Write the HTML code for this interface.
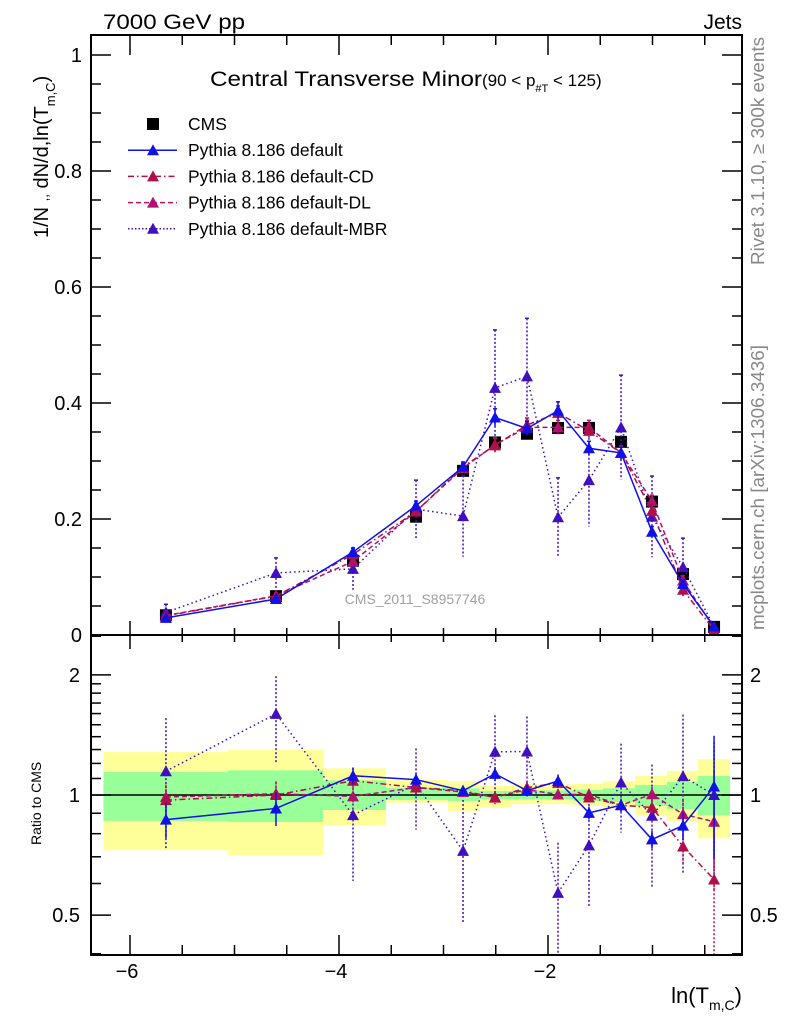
<!DOCTYPE html>
<html><head><meta charset="utf-8"><style>
body{margin:0;background:#fff;}
svg{display:block;font-family:"Liberation Sans",sans-serif;}
</style></head><body>
<svg id="plot" width="786" height="1024" viewBox="0 0 786 1024" xmlns="http://www.w3.org/2000/svg">
<g id="bands"></g>
<g id="marks"></g>
<g id="axes"></g>
<text x="103" y="29" font-size="21" textLength="142" lengthAdjust="spacingAndGlyphs">7000 GeV pp</text>
<text x="742" y="29" font-size="21" text-anchor="end">Jets</text>
<text x="210" y="86" font-size="21" textLength="272" lengthAdjust="spacingAndGlyphs">Central Transverse Minor</text>
<text x="482" y="86" font-size="17">(90 &lt; p<tspan font-size="11" dy="6">#T</tspan><tspan dy="-6">  &lt; 125)</tspan></text>
<text x="415" y="604" font-size="14" fill="#a0a0a0" text-anchor="middle">CMS_2011_S8957746</text>
<text transform="translate(48,238) rotate(-90)" font-size="20">1/N <tspan font-size="13">,,</tspan> dN/d,ln(T<tspan font-size="13" dy="7">m,C</tspan><tspan dy="-7">)</tspan></text>
<text transform="translate(41,845) rotate(-90)" font-size="14">Ratio to CMS</text>
<text x="742" y="1003" font-size="22" text-anchor="end">ln(T<tspan font-size="14" dy="7">m,C</tspan><tspan dy="-7">)</tspan></text>
<text transform="translate(764,265) rotate(-90)" font-size="18" fill="#888" textLength="228" lengthAdjust="spacingAndGlyphs">Rivet 3.1.10, ≥ 300k events</text>
<text transform="translate(764,630) rotate(-90)" font-size="18" fill="#888" textLength="285" lengthAdjust="spacingAndGlyphs">mcplots.cern.ch [arXiv:1306.3436]</text>
<g id="legend"></g>
</svg>
<script>
const xCenters=[-5.656,-4.603,-3.866,-3.263,-2.813,-2.507,-2.201,-1.904,-1.608,-1.301,-1.005,-0.708,-0.411];
const binEdges=[-6.254,-5.062,-4.153,-3.550,-2.957,-2.660,-2.354,-2.057,-1.751,-1.474,-1.167,-0.861,-0.565,-0.258];
const cmsValues=[0.034,0.067,0.128,0.204,0.283,0.332,0.347,0.357,0.357,0.333,0.230,0.105,0.014];
const cmsErrors=[0.002,0.004,0.006,0.008,0.008,0.010,0.010,0.010,0.010,0.008,0.006,0.004,0.001];
const bandYellowHi=[1.281,1.299,1.166,1.090,1.084,1.053,1.063,1.063,1.067,1.084,1.116,1.149,1.229];
const bandYellowLo=[0.727,0.707,0.839,0.957,0.912,0.933,0.948,0.948,0.938,0.930,0.889,0.861,0.779];
const bandGreenHi=[1.142,1.153,1.088,1.043,1.039,1.023,1.027,1.027,1.031,1.039,1.059,1.078,1.116];
const bandGreenLo=[0.861,0.856,0.917,0.972,0.966,0.975,0.975,0.975,0.966,0.960,0.938,0.921,0.889];
const defaultValues=[0.0295,0.062,0.143,0.223,0.290,0.375,0.356,0.387,0.322,0.314,0.178,0.088,0.0147];
const defaultErrors=[0.003,0.006,0.007,0.008,0.008,0.015,0.012,0.015,0.012,0.010,0.009,0.007,0.005];
const cdValues=[0.033,0.067,0.139,0.213,0.290,0.327,0.362,0.383,0.352,0.314,0.214,0.078,0.0086];
const cdErrors=[0.003,0.005,0.006,0.008,0.008,0.012,0.012,0.012,0.012,0.012,0.010,0.008,0.004];
const dlValues=[0.0336,0.0675,0.127,0.213,0.288,0.328,0.358,0.358,0.358,0.314,0.231,0.094,0.012];
const dlErrors=[0.003,0.005,0.006,0.008,0.008,0.012,0.012,0.012,0.012,0.012,0.010,0.008,0.004];
const mbrValues=[0.039,0.107,0.114,0.217,0.205,0.426,0.446,0.203,0.267,0.358,0.204,0.117,0.014];
const mbrErrors=[0.014,0.026,0.036,0.050,0.070,0.100,0.100,0.068,0.080,0.090,0.070,0.050,0.005];
const mainTicks=["0","0.2","0.4","0.6","0.8","1"];
const ratioTicks=["0.5","1","2"];
const xTicks=["−6","−4","−2"];

const NS="http://www.w3.org/2000/svg";
const L=91,R=742,T=35,MID=635,B=955;
const X=v=>339+(v+4)*104.5;
const Y=v=>635-v*580;
const RY=r=>795-Math.log10(r)*399;
function mk(tag,attrs,parent){const e=document.createElementNS(NS,tag);for(const k in attrs)e.setAttribute(k,attrs[k]);parent.appendChild(e);return e;}
const bands=document.getElementById('bands'),marks=document.getElementById('marks'),axes=document.getElementById('axes'),legend=document.getElementById('legend');

for(let i=0;i<xCenters.length;i++){
  const x0=X(binEdges[i]),x1=X(binEdges[i+1]);
  const y=mk('rect',{x:x0,y:RY(bandYellowHi[i]),width:x1-x0,height:RY(bandYellowLo[i])-RY(bandYellowHi[i]),fill:'#ffff99'},bands);
  
  
  const g=mk('rect',{x:x0,y:RY(bandGreenHi[i]),width:x1-x0,height:RY(bandGreenLo[i])-RY(bandGreenHi[i]),fill:'#99ff99'},bands);
  
  
}
const one=mk('line',{x1:L,x2:R,y1:RY(1),y2:RY(1),stroke:'#000','stroke-width':1.5},bands);



function tri(x,y,c,parent){return mk('polygon',{points:`${x},${y-6} ${x-6},${y+5} ${x+6},${y+5}`,fill:c},parent);}
function clipY(y,top,bot){return Math.max(top,Math.min(bot,y));}

const series=[
 {name:'mbr',vals:mbrValues,errs:mbrErrors,color:'#4010c0',dash:'1.5,3',w:1.5},
 {name:'dl',vals:dlValues,errs:dlErrors,color:'#b0106e',dash:'5,3',w:1.5},
 {name:'cd',vals:cdValues,errs:cdErrors,color:'#b0104a',dash:'6,3,1.5,3',w:1.5},
 {name:'default',vals:defaultValues,errs:defaultErrors,color:'#1010e8',dash:'',w:1.5},
];
const cg=mk('g',{},marks);


for(let i=0;i<cmsValues.length;i++){
  const x=X(xCenters[i]),y=Y(cmsValues[i]);
  mk('line',{x1:x,x2:x,y1:Y(cmsValues[i]+cmsErrors[i]),y2:Y(cmsValues[i]-cmsErrors[i]),stroke:'#000','stroke-width':1.5},cg);
  const s=mk('rect',{x:x-6,y:y-6,width:12,height:12,fill:'#000'},cg);
  
  
}
for(const s of series){
  const g=mk('g',{},marks);
  
  
  const pts=s.vals.map((v,i)=>X(xCenters[i])+','+Y(v)).join(' ');
  const ln=mk('polyline',{points:pts,fill:'none',stroke:s.color,'stroke-width':s.w,'stroke-dasharray':s.dash},g);
  
  
  const rpts=s.vals.map((v,i)=>X(xCenters[i])+','+clipY(RY(v/cmsValues[i]),MID,B)).join(' ');
  const rl=mk('polyline',{points:rpts,fill:'none',stroke:s.color,'stroke-width':s.w,'stroke-dasharray':s.dash},g);
  
  
  s.vals.forEach((v,i)=>{
    const x=X(xCenters[i]);
    const e=s.errs[i];
    mk('line',{x1:x,x2:x,y1:Y(v+e),y2:Math.min(Y(v-e),MID),stroke:s.color,'stroke-width':1.5,'stroke-dasharray':s.dash?'2,2':''},g);
    mk('line',{x1:x-2,x2:x+2,y1:Y(v+e),y2:Y(v+e),stroke:s.color,'stroke-width':1.5},g);
    const t=tri(x,Y(v),s.color,g);
    
    
    const r=v/cmsValues[i],rh=(v+e)/cmsValues[i],rlo=Math.max(v-e,0.0001)/cmsValues[i];
    const ry=RY(r);
    mk('line',{x1:x,x2:x,y1:clipY(RY(rh),MID,B),y2:clipY(RY(rlo),MID,B),stroke:s.color,'stroke-width':1.5,'stroke-dasharray':s.dash?'2,2':''},g);
    if(ry>MID&&ry<B){const rt=tri(x,ry,s.color,g);
      
      }
  });
}

for(const [y0,y1] of [[T,MID],[MID,B]]){
  mk('rect',{x:L,y:y0,width:R-L,height:y1-y0,fill:'none',stroke:'#000','stroke-width':2},axes);
}
for(let v=-6;v<=-0.5;v+=0.5){
  const x=X(v),maj=Number.isInteger(v/2);
  for(const [y0,dir] of [[T,1],[MID,-1],[MID,1],[B,-1]]){
    mk('line',{x1:x,x2:x,y1:y0,y2:y0+dir*(maj?(y0===T||y0===B?20:14):(y0===T||y0===B?10:7)),stroke:'#000','stroke-width':1.5},axes);
  }
}
xTicks.forEach((lab,i)=>{
  const t=mk('text',{x:X(-6+2*i)-3,y:978,'font-size':20,'text-anchor':'middle'},axes);
  t.textContent=lab;
  
  
});
for(let k=0;k<=20;k++){
  const v=k*0.05,y=Y(v),maj=k%4===0;
  if(y<T)continue;
  mk('line',{x1:L,x2:L+(maj?20:10),y1:y,y2:y,stroke:'#000','stroke-width':1.5},axes);
  mk('line',{x1:R,x2:R-(maj?20:10),y1:y,y2:y,stroke:'#000','stroke-width':1.5},axes);
}
mainTicks.forEach((lab,i)=>{
  const t=mk('text',{x:82,y:Y(i*0.2)+7,'font-size':20,'text-anchor':'end'},axes);
  t.textContent=lab;
  
  
});
const minor=[0.4,0.5,0.6,0.7,0.8,0.9,1,1.1,1.2,1.3,1.4,1.5,1.6,1.7,1.8,1.9,2,2.5];
for(const r of minor){
  const y=RY(r);if(y<=MID||y>=B)continue;
  const maj=(r===0.5||r===1||r===2);
  mk('line',{x1:L,x2:L+(maj?20:10),y1:y,y2:y,stroke:'#000','stroke-width':1.5},axes);
  mk('line',{x1:R,x2:R-(maj?20:10),y1:y,y2:y,stroke:'#000','stroke-width':1.5},axes);
}
ratioTicks.forEach(lab=>{
  const y=RY(parseFloat(lab))+7;
  const t=mk('text',{x:80,y:y,'font-size':20,'text-anchor':'end'},axes);
  t.textContent=lab;
  
  
  const t2=mk('text',{x:750,y:y,'font-size':20},axes);
  t2.textContent=lab;
  
  
});
const leg=[['CMS','#000','',true],['Pythia 8.186 default','#1010e8','',false],['Pythia 8.186 default-CD','#b0104a','6,3,1.5,3',false],['Pythia 8.186 default-DL','#b0106e','5,3',false],['Pythia 8.186 default-MBR','#4010c0','1.5,2',false]];
leg.forEach((e,i)=>{
  const y=124+i*26.2;
  const g=mk('g',{},legend);
  
  
  if(e[3]){mk('rect',{x:147,y:y-6,width:12,height:12,fill:'#000'},g);}
  else{mk('line',{x1:128,x2:177,y1:y,y2:y,stroke:e[1],'stroke-width':1.5,'stroke-dasharray':e[2]},g);tri(153,y,e[1],g);}
  const t=mk('text',{x:188,y:y+6,'font-size':17.5},g);
  t.textContent=e[0];
});
</script>
</body></html>
